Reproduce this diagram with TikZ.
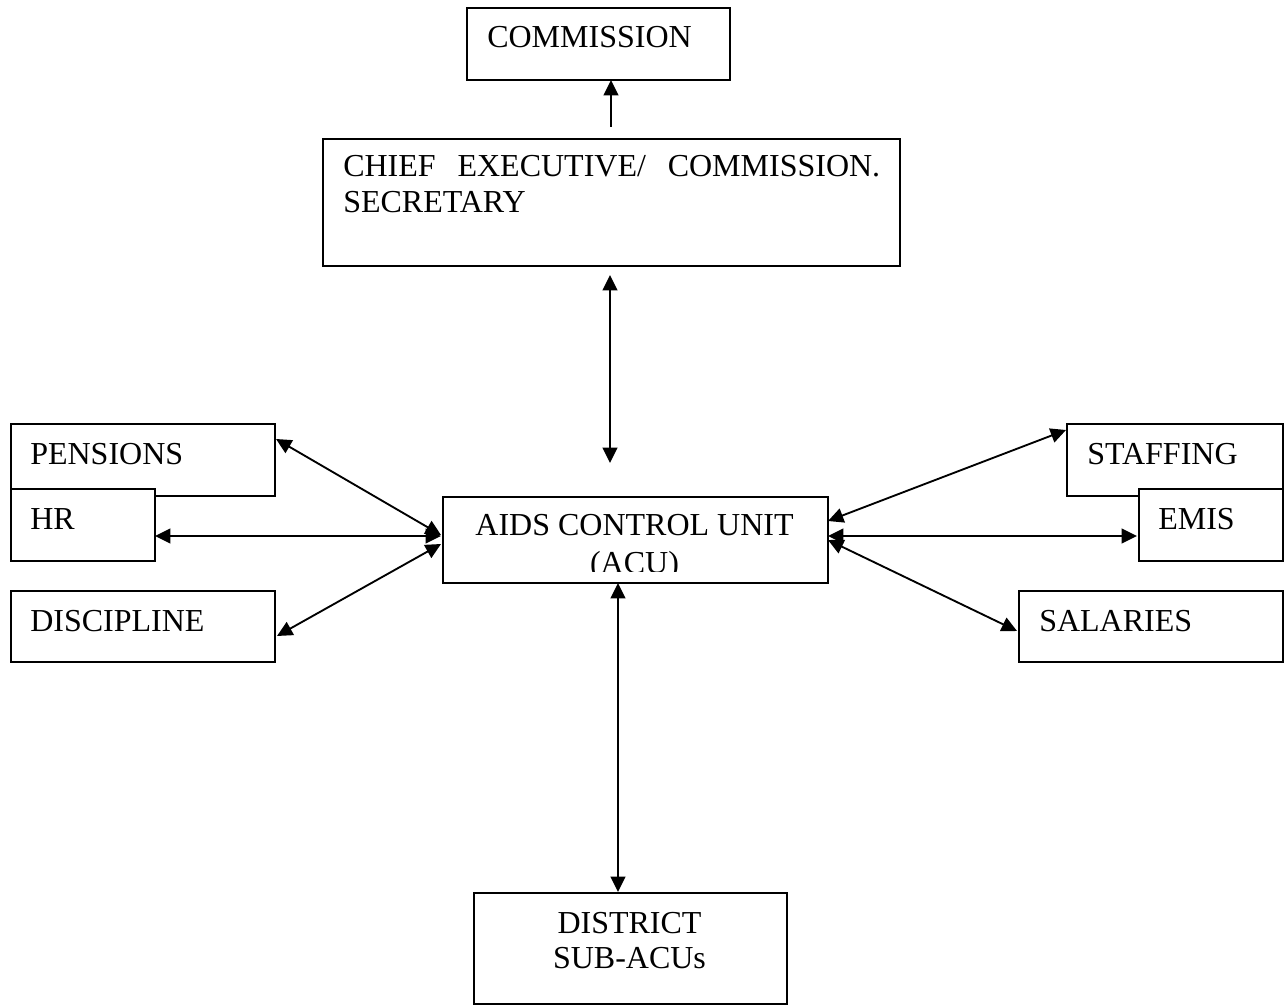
\documentclass[tikz,border=0pt]{standalone}
\usepackage{fontspec}
\setmainfont{Liberation Serif}
\usetikzlibrary{arrows.meta}
\newcommand\mkbox[5]{\node[box, minimum width={(#4-#2)*0.75pt}, minimum height={(#5-#3)*0.75pt}] (#1) at (#2,#3) {};}
\begin{document}
\begin{tikzpicture}[x=0.75pt,y=-0.75pt,
  box/.style={draw, fill=white, line width=1.4pt, inner sep=0pt, anchor=north west},
  lbl/.style={inner sep=0pt, anchor=base west, font=\fontsize{24}{27}\selectfont},
  clbl/.style={lbl, anchor=base},
  conn/.style={line width=1.4pt, {Triangle[length=11.5pt,width=11pt]}-{Triangle[length=11.5pt,width=11pt]}},
  one/.style={line width=1.4pt, -{Triangle[length=11.5pt,width=11pt]}}]
\useasboundingbox (0,0) rectangle (1284,1005);
% boxes
\mkbox{comm}{466}{7}{729}{79}
\mkbox{chief}{322}{138}{899}{265}
\mkbox{pens}{10}{423}{274}{495}
\mkbox{hr}{10}{488}{154}{560}
\mkbox{disc}{10}{590}{274}{661}
\mkbox{acu}{442}{496}{827}{582}
\mkbox{staff}{1066}{423}{1282}{495}
\mkbox{emis}{1138}{488}{1282}{560}
\mkbox{sal}{1018}{590}{1282}{661}
\mkbox{dist}{473}{892}{786}{1003}
% labels
\node[lbl] (tcomm) at (487,48) {COMMISSION};
\node[lbl] (tchief1) at (343,177) {\hbox to 402.75pt{CHIEF\hfill EXECUTIVE/\hfill COMMISSION.}};
\node[lbl] (tchief2) at (343,213) {SECRETARY};
\node[lbl] (tpens) at (30,464) {PENSIONS};
\node[lbl] (thr) at (30,529) {HR};
\node[lbl] (tdisc) at (30,631) {DISCIPLINE};
\node[lbl] (tstaff) at (1087,464) {STAFFING};
\node[lbl] (temis) at (1158,529) {EMIS};
\node[lbl] (tsal) at (1039,631) {SALARIES};
\node[clbl] (tacu1) at (634.5,535) {AIDS CONTROL UNIT};
\begin{scope}
\clip (442,496) rectangle (827,571.5);
\node[clbl] (tacu2) at (634.5,573) {(ACU)};
\end{scope}
\node[clbl] (tdist1) at (629.5,933) {DISTRICT};
\node[clbl] (tdist2) at (629.5,968) {SUB-ACUs};
% connector end points
\coordinate (c1) at (611,127);
\coordinate (c1t) at (611,80);
\coordinate (c2) at (610,275);
\coordinate (c3) at (610,463);
\coordinate (d1) at (618,583);
\coordinate (d2) at (618,892);
\coordinate (pe) at (276,439);
\coordinate (pa) at (441,535);
\coordinate (he) at (155,536);
\coordinate (ha) at (441,536);
\coordinate (de) at (277,636);
\coordinate (da) at (441,544);
\coordinate (sa) at (828,521);
\coordinate (se) at (1066,430);
\coordinate (ea) at (828,536);
\coordinate (ee) at (1137,536);
\coordinate (la) at (828,540);
\coordinate (le) at (1017,631);
% connectors
\draw[one] (c1) -- (c1t);
\draw[conn] (c2) -- (c3);
\draw[conn] (d1) -- (d2);
\draw[conn] (pe) -- (pa);
\draw[conn] (he) -- (ha);
\draw[conn] (de) -- (da);
\draw[conn] (sa) -- (se);
\draw[conn] (ea) -- (ee);
\draw[conn] (la) -- (le);
\end{tikzpicture}
\end{document}
